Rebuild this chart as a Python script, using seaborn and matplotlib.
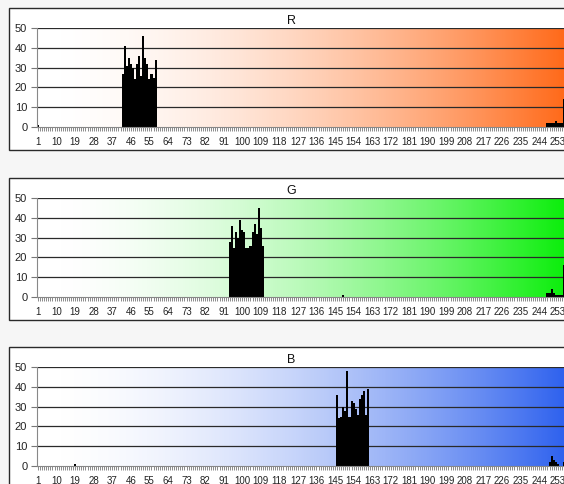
import numpy as np
import matplotlib
matplotlib.use("Agg")
import matplotlib.pyplot as plt
from matplotlib.colors import LinearSegmentedColormap
from matplotlib.patches import Rectangle
import seaborn as sns

# --- histogram values (bin number -> count) ---
n_bins = 256
bin_labels = [str(b) for b in range(1, n_bins + 1, 9)]

r_bins = [1] + list(range(42, 59)) + list(range(248, 257))
r_counts = [1,
            27, 41, 31, 35, 32, 30, 24, 32, 36, 26, 46, 35, 32, 24, 27, 25, 34,
            2, 2, 2, 2, 3, 2, 2, 2, 14]

g_bins = list(range(94, 111)) + [149] + list(range(248, 257))
g_counts = [28, 36, 25, 33, 30, 39, 34, 33, 25, 25, 26, 33, 37, 32, 45, 35, 26,
            1,
            2, 2, 4, 2, 1, 1, 1, 1, 16]

b_bins = [19] + list(range(146, 162)) + list(range(249, 257))
b_counts = [1,
            36, 24, 25, 30, 28, 48, 25, 33, 32, 29, 26, 34, 36, 38, 26, 39,
            2, 5, 3, 2, 1, 0, 0, 2]

channels = ["R", "G", "B"]
end_colors = ["#ff6a1a", "#0cee0c", "#2f62ee"]


def full_hist(bins, counts):
    h = np.zeros(n_bins)
    for b, c in zip(bins, counts):
        h[b - 1] = c
    return h


hists = [full_hist(r_bins, r_counts), full_hist(g_bins, g_counts), full_hist(b_bins, b_counts)]

W, H = 564, 484
fig = plt.figure(figsize=(W / 100, H / 100), dpi=100, facecolor="#f6f6f6")
plt.rcParams["font.family"] = ["Liberation Sans", "DejaVu Sans"]

panel_tops = [8, 178, 347]
for i, (name, col, hist) in enumerate(zip(channels, end_colors, hists)):
    top = panel_tops[i]
    # panel frame
    fig.add_artist(Rectangle((9 / W, 1 - (top + 142) / H), 1.2, 142 / H,
                             transform=fig.transFigure, facecolor="white",
                             edgecolor="#2a2a2a", lw=1.0, zorder=0))
    ax_top = top + 20
    ax = fig.add_axes([37 / W, 1 - (ax_top + 99) / H, 528 / W, 99 / H])
    ax.set_zorder(1)
    ax.patch.set_alpha(0)

    # white -> colour, staying pale over the left half like the original
    cmap = LinearSegmentedColormap.from_list(name, ["white", col])
    grad = (np.linspace(0, 1, 256) ** 1.8).reshape(1, -1)
    ax.imshow(grad, cmap=cmap, vmin=0, vmax=1, extent=[-0.5, n_bins - 0.5, 0, 50],
              aspect="auto", zorder=0, interpolation="bilinear")

    sns.barplot(x=np.arange(1, n_bins + 1), y=hist, color="black", width=1.0,
                linewidth=0, saturation=1, ax=ax, zorder=2)

    ax.set_xlim(-0.5, n_bins - 0.5)
    ax.set_ylim(0, 50)
    ax.set_yticks([0, 10, 20, 30, 40, 50])
    ax.set_yticklabels(["0", "10", "20", "30", "40", "50"], fontsize=8, color="#222")
    ax.set_xticks(np.arange(0, n_bins, 9))
    ax.set_xticklabels(bin_labels, fontsize=7, color="#222")
    ax.set_xticks(np.arange(n_bins), minor=True)
    ax.tick_params(axis="x", which="both", length=3, color="#777", width=0.6, pad=4)
    ax.tick_params(axis="y", length=4, color="#777", width=0.8, pad=3)
    ax.set_xlabel("")
    ax.set_ylabel("")
    for y in [10, 20, 30, 40, 50]:
        ax.axhline(y, color="#2a2a2a", lw=0.9, zorder=1)
    for s in ["top", "right"]:
        ax.spines[s].set_visible(False)
    ax.spines["left"].set_color("#888")
    ax.spines["bottom"].set_color("#888")
    ax.spines["bottom"].set_zorder(3)

    fig.text(291 / W, 1 - (top + 13) / H, name, ha="center", va="center",
             fontsize=9, color="#111")

fig.savefig("out.png", dpi=100, facecolor=fig.get_facecolor())
